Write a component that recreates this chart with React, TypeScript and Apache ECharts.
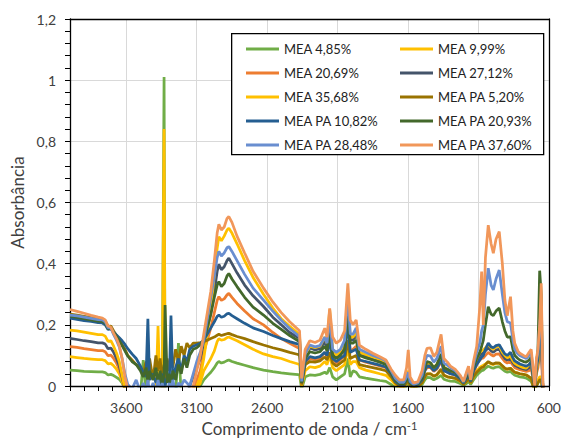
import React, { useEffect, useRef } from "react";
import * as echarts from "echarts";

// Wavenumbers (cm-1), shared by every series
const wavenumbers = [
  // 4000-3590
  4000, 3950, 3900, 3850, 3800, 3770, 3750, 3730, 3710, 3690, 3670, 3650, 3630, 3610, 3590,
  // 3560-3100
  3560, 3530, 3500, 3480, 3460, 3447, 3435, 3410, 3390, 3375, 3360, 3345, 3332, 3325, 3310, 3295, 3283, 3270, 3250, 3230, 3210, 3190, 3170, 3150, 3125, 3100,
  // 3075-2380
  3075, 3050, 3025, 3000, 2975, 2955, 2943, 2925, 2905, 2885, 2872, 2850, 2814, 2760, 2700, 2626, 2560, 2500, 2440, 2380,
  // 2370-1560
  2370, 2355, 2330, 2297, 2260, 2225, 2191, 2175, 2156, 2135, 2109, 2080, 2050, 2027, 2010, 1990, 1968, 1945, 1900, 1850, 1800, 1757, 1720, 1690, 1660, 1630, 1610, 1598, 1585, 1560,
  // 1530-600
  1530, 1500, 1480, 1465, 1440, 1417, 1395, 1365, 1345, 1320, 1299, 1264, 1229, 1206, 1185, 1170, 1155, 1135, 1112, 1090, 1077, 1065, 1050, 1030, 1010, 994, 975, 952, 930, 912, 895, 872, 855, 842, 820, 806, 780, 760, 740, 725, 712, 700, 688, 677, 665, 654, 642, 630, 600,
];

const mea485 = [
  0.052, 0.050, 0.048, 0.047, 0.046, 0.046, 0.044, 0.036, 0.038, 0.034, 0.028, 0.022, 0.010, -0.01, -0.03,
  -0.03, -0.03, -0.03, 0.085, -0.03, -0.03, -0.03, -0.03, -0.03, -0.03, -0.03, -0.03, 1.01, -0.03, -0.03, -0.03, -0.03, -0.03, -0.03, 0.14, -0.03, -0.03, -0.03, -0.03, -0.02, -0.01,
  0.0, 0.02, 0.033, 0.045, 0.06, 0.075, 0.08, 0.075, 0.078, 0.083, 0.085, 0.08, 0.075, 0.068, 0.06, 0.052, 0.047, 0.043, 0.04, 0.037,
  0.036, -0.01, 0.03, 0.036, 0.035, 0.038, 0.045, 0.04, 0.06, 0.03, 0.02, 0.03, 0.04, 0.09, 0.03, 0.05, 0.045, 0.03, 0.026, 0.022, 0.018, 0.015, 0.005, -0.005, -0.01, -0.01, 0.0, 0.01, 0.0, -0.01,
  -0.005, 0.005, 0.02, 0.028, 0.027, 0.02, 0.025, 0.035, 0.022, 0.018, 0.016, 0.015, 0.008, 0.002, 0.008, 0.015, 0.005, 0.02, 0.035, 0.045, 0.05, 0.052, 0.058, 0.065, 0.06, 0.058, 0.062, 0.063, 0.055, 0.048, 0.045, 0.048, 0.04, 0.035, 0.032, 0.03, 0.028, 0.026, 0.02, 0.015, 0.0, -0.01, 0.0, 0.01, 0.02, 0.02, -0.02, -0.02, -0.02,
];

const mea999 = [
  0.096, 0.093, 0.090, 0.088, 0.086, 0.086, 0.083, 0.072, 0.074, 0.066, 0.055, 0.040, 0.015, -0.01, -0.03,
  -0.03, -0.03, -0.03, -0.03, -0.03, -0.03, -0.03, -0.03, -0.03, -0.03, -0.03, -0.03, 0.84, -0.03, -0.03, -0.03, -0.03, -0.03, -0.03, -0.03, -0.03, -0.03, -0.03, -0.03, -0.02, -0.01,
  0.01, 0.05, 0.07, 0.09, 0.115, 0.145, 0.155, 0.15, 0.152, 0.158, 0.16, 0.155, 0.148, 0.135, 0.12, 0.105, 0.096, 0.09, 0.08, 0.072,
  0.07, 0.0, 0.05, 0.063, 0.06, 0.065, 0.08, 0.07, 0.1, 0.06, 0.05, 0.06, 0.07, 0.13, 0.07, 0.08, 0.08, 0.06, 0.052, 0.046, 0.04, 0.035, 0.02, 0.005, -0.005, -0.005, 0.01, 0.02, 0.0, -0.005,
  0.0, 0.01, 0.03, 0.04, 0.04, 0.032, 0.037, 0.05, 0.035, 0.03, 0.028, 0.025, 0.015, 0.006, 0.015, 0.025, 0.01, 0.03, 0.05, 0.06, 0.065, 0.068, 0.072, 0.078, 0.072, 0.07, 0.074, 0.075, 0.065, 0.058, 0.055, 0.058, 0.05, 0.045, 0.042, 0.04, 0.038, 0.036, 0.03, 0.025, 0.005, -0.005, 0.01, 0.02, 0.03, 0.03, -0.02, -0.02, -0.02,
];

const mea2069 = [
  0.129, 0.126, 0.122, 0.119, 0.116, 0.116, 0.112, 0.099, 0.101, 0.090, 0.075, 0.055, 0.025, -0.01, -0.03,
  -0.03, -0.03, -0.03, -0.03, -0.03, -0.03, -0.03, -0.03, -0.03, -0.03, -0.03, -0.03, -0.03, -0.03, -0.03, -0.03, -0.03, -0.03, -0.03, -0.03, -0.03, -0.03, -0.03, -0.03, -0.01, 0.02,
  0.05, 0.11, 0.15, 0.19, 0.24, 0.28, 0.292, 0.28, 0.285, 0.298, 0.303, 0.29, 0.27, 0.245, 0.22, 0.20, 0.175, 0.155, 0.14, 0.125,
  0.122, 0.005, 0.07, 0.09, 0.085, 0.09, 0.11, 0.095, 0.16, 0.09, 0.075, 0.085, 0.1, 0.22, 0.11, 0.12, 0.13, 0.085, 0.078, 0.072, 0.066, 0.06, 0.035, 0.015, 0.0, 0.0, 0.01, 0.03, 0.01, 0.0,
  0.005, 0.02, 0.05, 0.06, 0.06, 0.048, 0.055, 0.08, 0.05, 0.045, 0.04, 0.035, 0.022, 0.01, 0.025, 0.04, 0.015, 0.04, 0.07, 0.085, 0.09, 0.092, 0.1, 0.11, 0.102, 0.098, 0.104, 0.105, 0.09, 0.08, 0.075, 0.08, 0.068, 0.06, 0.056, 0.053, 0.05, 0.048, 0.05, 0.06, 0.02, 0.0, 0.04, 0.06, 0.1, 0.12, -0.02, -0.02, -0.02,
];

const mea2712 = [
  0.156, 0.152, 0.148, 0.145, 0.141, 0.141, 0.137, 0.122, 0.124, 0.110, 0.090, 0.066, 0.030, -0.01, -0.03,
  -0.03, -0.03, -0.03, -0.03, -0.03, -0.03, -0.03, -0.03, -0.03, -0.03, -0.03, -0.03, -0.03, -0.03, -0.03, -0.03, -0.03, -0.03, -0.03, -0.03, -0.03, -0.03, -0.03, 0.0, 0.03, 0.06,
  0.09, 0.14, 0.19, 0.24, 0.31, 0.375, 0.398, 0.38, 0.39, 0.41, 0.418, 0.40, 0.37, 0.33, 0.295, 0.26, 0.225, 0.20, 0.175, 0.158,
  0.155, 0.01, 0.09, 0.125, 0.118, 0.122, 0.145, 0.125, 0.2, 0.11, 0.095, 0.11, 0.135, 0.27, 0.15, 0.15, 0.17, 0.105, 0.097, 0.088, 0.08, 0.072, 0.045, 0.02, 0.005, 0.005, 0.02, 0.035, 0.01, 0.0,
  0.008, 0.025, 0.06, 0.07, 0.07, 0.056, 0.065, 0.095, 0.058, 0.052, 0.046, 0.04, 0.026, 0.012, 0.03, 0.045, 0.018, 0.05, 0.08, 0.1, 0.105, 0.108, 0.115, 0.125, 0.115, 0.11, 0.118, 0.12, 0.102, 0.09, 0.085, 0.09, 0.076, 0.068, 0.063, 0.06, 0.056, 0.054, 0.06, 0.07, 0.03, 0.0, 0.05, 0.08, 0.15, 0.2, -0.02, -0.02, -0.02,
];

const mea3568 = [
  0.183, 0.180, 0.176, 0.172, 0.168, 0.168, 0.163, 0.146, 0.148, 0.130, 0.108, 0.080, 0.035, -0.01, -0.03,
  -0.03, -0.03, -0.03, -0.03, -0.03, -0.03, -0.03, -0.03, -0.03, 0.196, -0.03, -0.03, -0.03, -0.03, -0.03, -0.03, -0.03, -0.03, -0.03, -0.03, -0.03, -0.03, -0.03, -0.04, -0.02, 0.0,
  0.03, 0.09, 0.17, 0.26, 0.36, 0.45, 0.488, 0.475, 0.49, 0.51, 0.516, 0.50, 0.465, 0.41, 0.355, 0.30, 0.255, 0.22, 0.195, 0.172,
  0.168, 0.01, 0.1, 0.13, 0.125, 0.13, 0.16, 0.14, 0.25, 0.12, 0.1, 0.115, 0.14, 0.29, 0.16, 0.16, 0.18, 0.11, 0.103, 0.095, 0.087, 0.078, 0.05, 0.025, 0.01, 0.01, 0.03, 0.05, 0.015, 0.005,
  0.01, 0.03, 0.065, 0.075, 0.075, 0.06, 0.07, 0.1, 0.062, 0.055, 0.05, 0.045, 0.03, 0.014, 0.035, 0.05, 0.02, 0.06, 0.09, 0.11, 0.115, 0.118, 0.125, 0.135, 0.125, 0.12, 0.128, 0.13, 0.11, 0.1, 0.092, 0.098, 0.082, 0.074, 0.068, 0.065, 0.06, 0.058, 0.07, 0.08, 0.03, 0.005, 0.05, 0.08, 0.16, 0.25, -0.02, -0.02, -0.02,
];

const pa520 = [
  0.235, 0.232, 0.228, 0.224, 0.220, 0.219, 0.213, 0.195, 0.196, 0.180, 0.165, 0.150, 0.135, 0.120, 0.100,
  0.085, 0.07, 0.06, 0.04, 0.08, 0.03, 0.09, 0.02, 0.10, 0.05, 0.09, 0.02, 0.07, 0.01, 0.09, 0.05, 0.10, 0.06, 0.12, 0.08, 0.13, 0.10, 0.14, 0.125, 0.14, 0.14,
  0.142, 0.145, 0.15, 0.155, 0.16, 0.166, 0.169, 0.165, 0.168, 0.171, 0.172, 0.168, 0.162, 0.155, 0.145, 0.134, 0.125, 0.118, 0.11, 0.103,
  0.1, 0.005, 0.07, 0.08, 0.078, 0.082, 0.095, 0.085, 0.11, 0.075, 0.065, 0.075, 0.085, 0.15, 0.09, 0.095, 0.1, 0.07, 0.065, 0.06, 0.055, 0.05, 0.03, 0.01, 0.0, 0.0, 0.01, 0.02, 0.0, -0.005,
  0.0, 0.01, 0.03, 0.04, 0.04, 0.032, 0.037, 0.055, 0.035, 0.03, 0.028, 0.025, 0.016, 0.006, 0.015, 0.025, 0.01, 0.03, 0.045, 0.055, 0.06, 0.062, 0.07, 0.08, 0.074, 0.072, 0.076, 0.075, 0.066, 0.058, 0.055, 0.058, 0.05, 0.045, 0.042, 0.04, 0.038, 0.036, 0.03, 0.025, 0.0, -0.01, 0.0, 0.01, 0.02, 0.02, -0.02, -0.02, -0.02,
];

const pa1082 = [
  0.222, 0.218, 0.214, 0.211, 0.207, 0.206, 0.200, 0.185, 0.187, 0.176, 0.167, 0.158, 0.148, 0.136, 0.122,
  0.105, 0.09, 0.065, 0.045, 0.03, 0.22, 0.02, 0.04, 0.01, 0.03, 0.0, 0.04, 0.02, 0.0, 0.03, 0.01, 0.23, 0.02, 0.06, 0.09, 0.05, 0.10, 0.08, 0.12, 0.13, 0.135,
  0.14, 0.15, 0.17, 0.19, 0.21, 0.228, 0.232, 0.225, 0.228, 0.236, 0.238, 0.23, 0.22, 0.205, 0.19, 0.178, 0.165, 0.155, 0.145, 0.137,
  0.134, 0.01, 0.08, 0.096, 0.092, 0.096, 0.11, 0.1, 0.15, 0.09, 0.08, 0.09, 0.1, 0.21, 0.11, 0.115, 0.12, 0.085, 0.08, 0.074, 0.068, 0.062, 0.04, 0.015, 0.005, 0.005, 0.02, 0.03, 0.01, 0.0,
  0.005, 0.02, 0.05, 0.065, 0.062, 0.05, 0.058, 0.085, 0.05, 0.045, 0.04, 0.036, 0.024, 0.01, 0.025, 0.04, 0.015, 0.05, 0.07, 0.085, 0.095, 0.1, 0.12, 0.14, 0.128, 0.125, 0.132, 0.135, 0.118, 0.105, 0.1, 0.11, 0.092, 0.082, 0.076, 0.072, 0.068, 0.065, 0.07, 0.08, 0.03, 0.0, 0.06, 0.09, 0.16, 0.2, -0.02, -0.02, -0.02,
];

const pa2093 = [
  0.228, 0.224, 0.220, 0.216, 0.212, 0.211, 0.205, 0.188, 0.189, 0.175, 0.162, 0.148, 0.132, 0.115, 0.098,
  0.08, 0.07, 0.05, 0.03, 0.06, 0.01, 0.05, 0.02, 0.06, 0.01, 0.05, 0.0, 0.04, 0.265, 0.01, 0.04, 0.0, 0.05, 0.02, 0.07, 0.04, 0.09, 0.06, 0.10, 0.12, 0.125,
  0.135, 0.15, 0.19, 0.235, 0.29, 0.33, 0.341, 0.325, 0.335, 0.36, 0.368, 0.35, 0.325, 0.29, 0.258, 0.232, 0.205, 0.185, 0.165, 0.148,
  0.145, 0.01, 0.09, 0.112, 0.108, 0.112, 0.13, 0.115, 0.18, 0.1, 0.09, 0.1, 0.12, 0.25, 0.14, 0.14, 0.15, 0.1, 0.092, 0.085, 0.078, 0.07, 0.045, 0.02, 0.008, 0.008, 0.02, 0.035, 0.01, 0.0,
  0.008, 0.025, 0.06, 0.08, 0.076, 0.06, 0.07, 0.105, 0.06, 0.055, 0.05, 0.045, 0.028, 0.012, 0.03, 0.048, 0.018, 0.06, 0.09, 0.11, 0.13, 0.15, 0.2, 0.259, 0.235, 0.23, 0.245, 0.255, 0.21, 0.18, 0.16, 0.161, 0.12, 0.1, 0.09, 0.085, 0.08, 0.078, 0.085, 0.095, 0.04, 0.005, 0.07, 0.12, 0.377, 0.3, -0.02, -0.02, -0.02,
];

const pa2848 = [
  0.232, 0.229, 0.225, 0.221, 0.217, 0.216, 0.210, 0.191, 0.190, 0.168, 0.150, 0.128, 0.090, 0.040, 0.005,
  -0.01, 0.02, -0.02, 0.01, -0.02, 0.02, -0.02, 0.01, -0.02, 0.02, -0.02, 0.01, -0.02, 0.0, -0.02, 0.01, -0.02, 0.02, -0.02, 0.01, 0.0, 0.02, 0.01, 0.0, 0.04, 0.08,
  0.11, 0.15, 0.22, 0.29, 0.36, 0.42, 0.44, 0.425, 0.435, 0.452, 0.456, 0.44, 0.41, 0.365, 0.32, 0.281, 0.245, 0.215, 0.188, 0.165,
  0.162, 0.015, 0.105, 0.134, 0.128, 0.132, 0.16, 0.14, 0.22, 0.12, 0.11, 0.12, 0.15, 0.30, 0.17, 0.17, 0.19, 0.12, 0.11, 0.1, 0.092, 0.082, 0.05, 0.025, 0.012, 0.012, 0.03, 0.045, 0.015, 0.005,
  0.01, 0.035, 0.08, 0.1, 0.098, 0.078, 0.09, 0.13, 0.075, 0.068, 0.06, 0.05, 0.032, 0.013, 0.04, 0.056, 0.02, 0.07, 0.11, 0.14, 0.18, 0.2, 0.3, 0.385, 0.33, 0.314, 0.35, 0.379, 0.3, 0.24, 0.21, 0.206, 0.15, 0.12, 0.105, 0.1, 0.094, 0.09, 0.1, 0.11, 0.05, 0.01, 0.08, 0.11, 0.2, 0.25, -0.02, -0.02, -0.02,
];

const pa3760 = [
  0.250, 0.244, 0.238, 0.231, 0.225, 0.222, 0.216, 0.196, 0.192, 0.172, 0.155, 0.132, 0.090, 0.030, -0.01,
  -0.02, -0.02, -0.02, -0.02, -0.02, -0.02, -0.02, -0.02, -0.02, -0.02, -0.02, -0.02, -0.02, -0.02, -0.02, -0.02, -0.02, -0.02, -0.02, -0.02, -0.02, -0.02, -0.02, -0.02, 0.0, 0.05,
  0.10, 0.17, 0.24, 0.31, 0.41, 0.50, 0.529, 0.51, 0.52, 0.548, 0.554, 0.535, 0.49, 0.435, 0.375, 0.32, 0.275, 0.24, 0.21, 0.185,
  0.18, 0.025, 0.12, 0.148, 0.142, 0.15, 0.189, 0.16, 0.254, 0.16, 0.14, 0.15, 0.18, 0.336, 0.216, 0.2, 0.216, 0.134, 0.12, 0.107, 0.096, 0.085, 0.055, 0.035, 0.02, 0.02, 0.06, 0.118, 0.03, 0.01,
  0.014, 0.05, 0.1, 0.123, 0.125, 0.096, 0.11, 0.169, 0.09, 0.078, 0.065, 0.054, 0.035, 0.015, 0.045, 0.065, 0.02, 0.08, 0.13, 0.26, 0.374, 0.2, 0.42, 0.526, 0.465, 0.434, 0.48, 0.505, 0.4, 0.281, 0.23, 0.292, 0.18, 0.14, 0.115, 0.107, 0.1, 0.096, 0.11, 0.12, 0.06, 0.0, 0.09, 0.12, 0.2, 0.336, 0.01, -0.02, -0.02,
];

const seriesNames = [
  "MEA 4,85%", "MEA 9,99%", "MEA 20,69%", "MEA 27,12%", "MEA 35,68%",
  "MEA PA 5,20%", "MEA PA 10,82%", "MEA PA 20,93%", "MEA PA 28,48%", "MEA PA 37,60%",
];
const seriesColors = [
  "#70AD47", "#FFC000", "#ED7D31", "#44546A", "#FFC000",
  "#997300", "#255E91", "#43682B", "#698ED0", "#F1975A",
];
const seriesValues = [mea485, mea999, mea2069, mea2712, mea3568, pa520, pa1082, pa2093, pa2848, pa3760];

const FONT = "Lato";
const AXIS_TEXT = "#404040";

export default function App() {
  const ref = useRef<HTMLDivElement>(null);

  useEffect(() => {
    document.body.style.margin = "0";
    const chart = echarts.init(ref.current as HTMLDivElement, null, { renderer: "svg" });

    const series = seriesValues.map((vals, i) => ({
      name: seriesNames[i],
      type: "line",
      xAxisIndex: 0,
      yAxisIndex: 0,
      data: wavenumbers.map((w, j) => [w, vals[j]]),
      symbol: "none",
      showSymbol: false,
      clip: true,
      silent: true,
      lineStyle: { width: 2.75, color: seriesColors[i] },
      itemStyle: { color: seriesColors[i] },
      z: 2,
    }));

    const legendBase = {
      orient: "vertical",
      top: 37,
      icon: "rect",
      itemWidth: 33,
      itemHeight: 3,
      itemGap: 10,
      selectedMode: false,
      z: 10,
      textStyle: { fontFamily: FONT, fontSize: 13, color: "#222", lineHeight: 14 },
    };

    chart.setOption({
      animation: false,
      grid: { left: 70, right: 13, top: 19, bottom: 57, containLabel: false },
      legend: [
        { ...legendBase, left: 241, data: [seriesNames[0], seriesNames[2], seriesNames[4], seriesNames[6], seriesNames[8]] },
        { ...legendBase, left: 395, data: [seriesNames[1], seriesNames[3], seriesNames[5], seriesNames[7], seriesNames[9]] },
      ],
      graphic: [
        {
          type: "rect",
          left: 231,
          top: 33,
          shape: { width: 312, height: 121 },
          style: { fill: "#fff", stroke: "#000", lineWidth: 1.3 },
          z: 5,
          silent: true,
        },
      ],
      xAxis: [
        {
          type: "value",
          min: 600,
          max: 4000,
          interval: 100,
          inverse: true,
          position: "bottom",
          z: 3,
          axisLine: { show: true, onZero: false, lineStyle: { color: "#000", width: 1.3 } },
          axisTick: { show: true, length: 5, lineStyle: { color: "#000", width: 1 } },
          axisLabel: {
            fontFamily: FONT,
            fontSize: 14,
            color: AXIS_TEXT,
            margin: 14,
            formatter: (v: number) => ((Math.round(v) - 600) % 500 === 0 ? String(Math.round(v)) : ""),
          },
          splitLine: { show: false },
          name: "Comprimento de onda / cm{sup|-1}",
          nameLocation: "middle",
          nameGap: 34,
          nameTextStyle: {
            fontFamily: FONT,
            fontSize: 17,
            color: AXIS_TEXT,
            rich: { sup: { fontFamily: FONT, fontSize: 11, color: AXIS_TEXT, verticalAlign: "top", lineHeight: 12 } },
          },
        },
        {
          type: "value",
          min: 600,
          max: 4000,
          inverse: true,
          position: "top",
          z: 3,
          axisLine: { show: true, onZero: false, lineStyle: { color: "#000", width: 1.3 } },
          axisTick: { show: false },
          axisLabel: { show: false },
          splitLine: { show: false },
        },
        {
          type: "value",
          min: 600,
          max: 4000,
          interval: 500,
          inverse: true,
          z: 0,
          axisLine: { show: false },
          axisTick: { show: false },
          axisLabel: { show: false },
          splitLine: { show: true, lineStyle: { color: "#D9D9D9", width: 1 } },
        },
      ],
      yAxis: [
        {
          type: "value",
          min: 0,
          max: 1.2,
          interval: 0.2,
          position: "left",
          z: 1,
          axisLine: { show: true, onZero: false, lineStyle: { color: "#000", width: 1.3 } },
          axisTick: { show: true, length: 5, lineStyle: { color: "#000", width: 1 } },
          minorTick: { show: true, splitNumber: 5, length: 5, lineStyle: { color: "#000", width: 1 } },
          axisLabel: {
            fontFamily: FONT,
            fontSize: 14,
            color: AXIS_TEXT,
            margin: 14,
            formatter: (v: number) => String(parseFloat(v.toFixed(1))).replace(".", ","),
          },
          splitLine: { show: true, lineStyle: { color: "#D9D9D9", width: 1 } },
          name: "Absorbância",
          nameLocation: "middle",
          nameGap: 38,
          nameTextStyle: { fontFamily: FONT, fontSize: 17, color: AXIS_TEXT },
        },
        {
          type: "value",
          min: 0,
          max: 1.2,
          position: "right",
          z: 3,
          axisLine: { show: true, onZero: false, lineStyle: { color: "#000", width: 1.3 } },
          axisTick: { show: false },
          axisLabel: { show: false },
          splitLine: { show: false },
        },
      ],
      series,
    });

    return () => {
      chart.dispose();
    };
  }, []);

  return <div ref={ref} style={{ width: 564, height: 443 }} />;
}
